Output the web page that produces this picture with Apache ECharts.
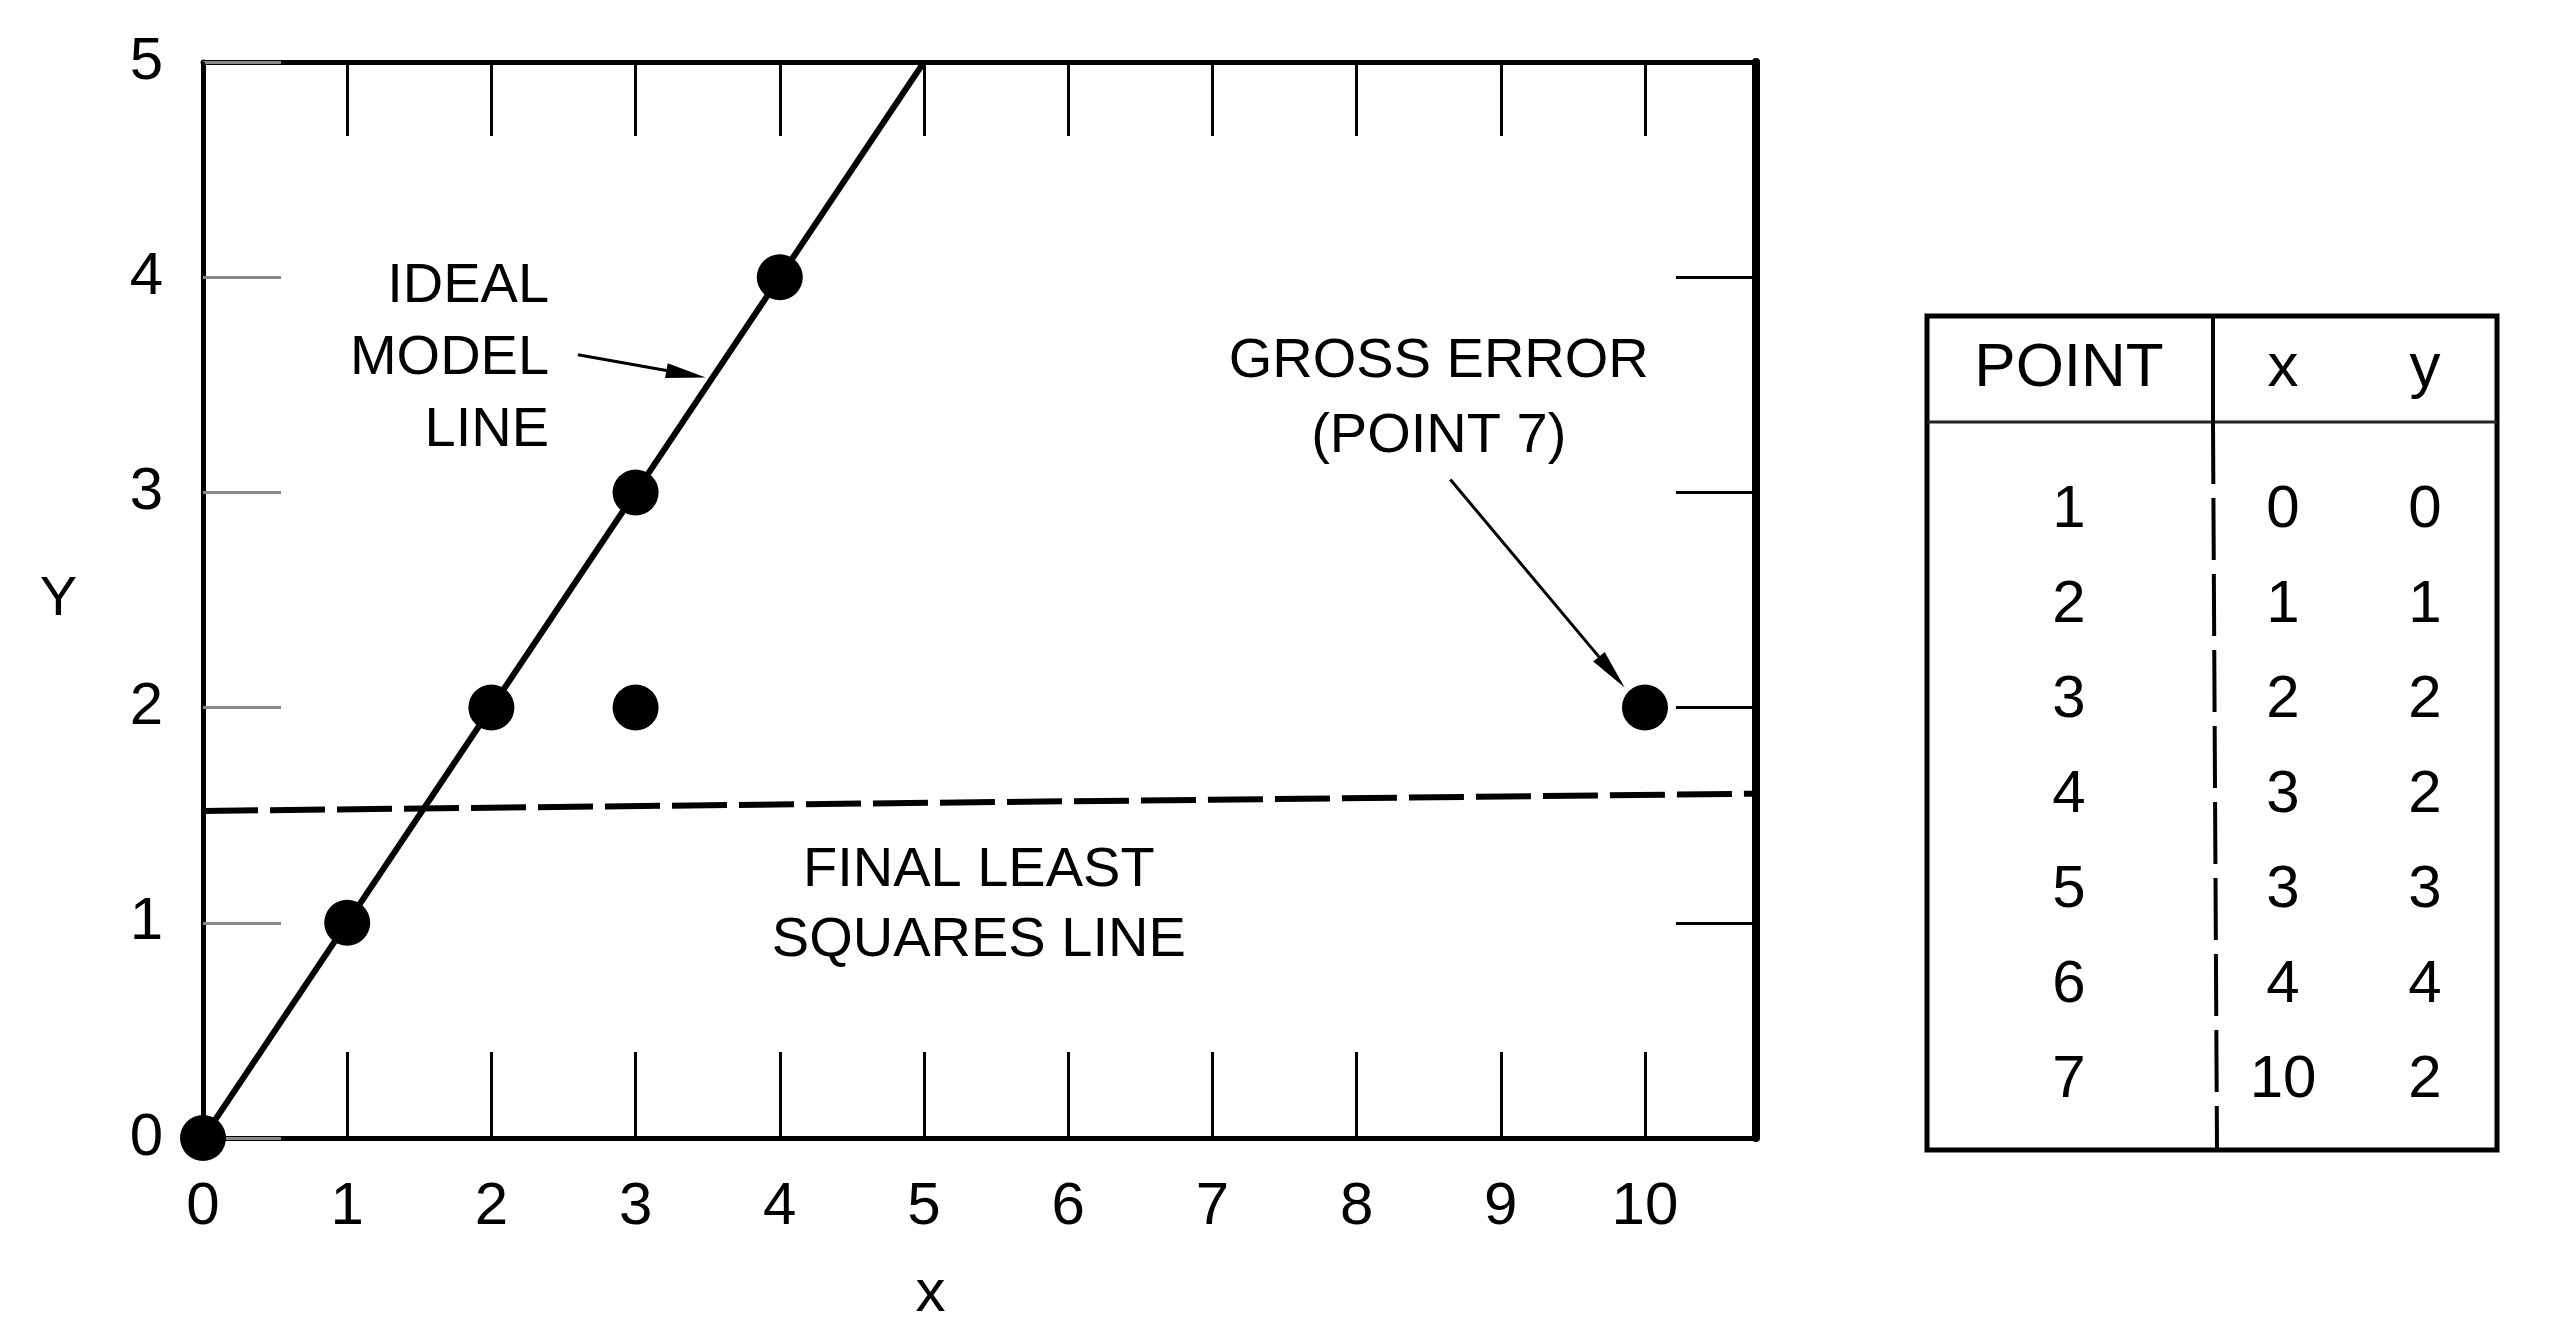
<!DOCTYPE html>
<html>
<head>
<meta charset="utf-8">
<title>Gross error vs least squares</title>
<script src="https://cdn.jsdelivr.net/npm/echarts@6/dist/echarts.min.js"></script>
<style>
  html, body { margin: 0; padding: 0; background: #fff; }
  #chart { width: 2553px; height: 1337px; }
</style>
</head>
<body>
<div id="chart"></div>
<script>
  // observations: point number, x, y
  const pointIds = [1, 2, 3, 4, 5, 6, 7]
  const pointX = [0, 1, 2, 3, 3, 4, 10]
  const pointY = [0, 1, 2, 2, 3, 4, 2]

  // ideal model line (y = x)
  const idealX = [0, 5]
  const idealY = [0, 5]

  // final least squares line, as drawn
  const lsqX = [0, 10.77]
  const lsqY = [1.52, 1.6]

  // axes
  const xMin = 0, xMax = 10.77, xStep = 1
  const yMin = 0, yMax = 5, yStep = 1

  // annotations (data units)
  const noteTexts = ['IDEAL\nMODEL\nLINE', 'GROSS ERROR\n(POINT 7)', 'FINAL LEAST\nSQUARES LINE']
  const noteX = [2.4, 8.57, 5.38]
  const noteY = [3.62, 3.435, 1.08]
  const noteAlign = ['right', 'center', 'center']
  const noteLineHeight = [72, 75, 70]

  // arrows from -> to
  const arrowFrom = [[2.6, 3.64], [8.65, 3.06]]
  const arrowTo = [[3.35, 3.55], [9.77, 2.165]]

  // table headers
  const tableHead = ['POINT', 'x', 'y']

  const FONT = '"Liberation Sans", Arial, Helvetica, sans-serif'

  const chart = echarts.init(document.getElementById('chart'), null, { renderer: 'canvas' })

  const points = pointX.map((x, i) => [x, pointY[i]])
  const ideal = idealX.map((x, i) => [x, idealY[i]])
  const lsq = lsqX.map((x, i) => [x, lsqY[i]])
  const notes = noteTexts.map((t, i) => ({
    value: [noteX[i], noteY[i]],
    name: t,
    label: { align: noteAlign[i], lineHeight: noteLineHeight[i] }
  }))
  const arrows = arrowFrom.map((f, i) => [
    { coord: f, symbol: 'none' },
    { coord: arrowTo[i], symbol: 'triangle', symbolSize: [15, 40] }
  ])

  function intLabel(v) {
    return Number.isInteger(v) ? String(v) : ''
  }

  const axisBase = {
    type: 'value',
    splitLine: { show: false },
    axisLine: { show: true, onZero: false, lineStyle: { color: '#000', width: 5 } },
    axisTick: { show: true, inside: true, lineStyle: { color: '#000', width: 3 } }
  }

  // table drawn as graphic elements
  const tLeft = 1927, tRight = 2497, tTop = 316, tBottom = 1150
  const tHeadLine = 422, tDiv = 2213
  const colX = [2069, 2283, 2425]
  const headY = 369, rowY0 = 510, rowStep = 95

  const tableEls = [
    {
      type: 'rect',
      shape: { x: tLeft, y: tTop, width: tRight - tLeft, height: tBottom - tTop },
      style: { fill: 'none', stroke: '#000', lineWidth: 5 }
    },
    {
      type: 'line',
      shape: { x1: tLeft, y1: tHeadLine, x2: tRight, y2: tHeadLine },
      style: { stroke: '#222', lineWidth: 3 }
    },
    {
      type: 'line',
      shape: { x1: tDiv, y1: tTop, x2: tDiv, y2: tHeadLine },
      style: { stroke: '#000', lineWidth: 4 }
    },
    {
      type: 'line',
      shape: { x1: tDiv, y1: tHeadLine, x2: tDiv + 4, y2: tBottom },
      style: { stroke: '#000', lineWidth: 4, lineDash: [62, 14] }
    }
  ]
  tableHead.forEach((h, j) => {
    tableEls.push({
      type: 'text',
      x: colX[j],
      y: headY,
      style: { text: h, fontSize: 62, fontFamily: FONT, fill: '#000', align: 'center', verticalAlign: 'middle' }
    })
  })
  pointIds.forEach((id, i) => {
    const row = [id, pointX[i], pointY[i]]
    row.forEach((v, j) => {
      tableEls.push({
        type: 'text',
        x: colX[j],
        y: rowY0 + i * rowStep,
        style: { text: String(v), fontSize: 60, fontFamily: FONT, fill: '#000', align: 'center', verticalAlign: 'middle' }
      })
    })
  })

  chart.setOption({
    animation: false,
    backgroundColor: '#fff',
    textStyle: { fontFamily: FONT, color: '#000' },
    grid: { left: 203, right: 797, top: 62, bottom: 199, containLabel: false },
    xAxis: [
      Object.assign({}, axisBase, {
        position: 'bottom',
        min: xMin, max: xMax, interval: xStep,
        name: 'x',
        nameLocation: 'middle',
        nameGap: 126,
        nameTextStyle: { fontSize: 60, color: '#000', fontFamily: FONT, padding: [0, 98, 0, 0] },
        axisTick: { show: true, inside: true, length: 86, lineStyle: { color: '#000', width: 3 } },
        axisLabel: { margin: 39, fontSize: 60, color: '#000', fontFamily: FONT, formatter: intLabel }
      }),
      Object.assign({}, axisBase, {
        position: 'top',
        min: xMin, max: xMax, interval: xStep,
        axisTick: { show: true, inside: true, length: 74, lineStyle: { color: '#000', width: 3 } },
        axisLabel: { show: false }
      })
    ],
    yAxis: [
      Object.assign({}, axisBase, {
        position: 'left',
        min: yMin, max: yMax, interval: yStep,
        name: 'Y',
        nameLocation: 'middle',
        nameRotate: 0,
        nameGap: 126,
        nameTextStyle: { fontSize: 56, color: '#000', fontFamily: FONT },
        axisTick: { show: true, inside: true, length: 78, lineStyle: { color: '#888', width: 3 } },
        axisLabel: { margin: 40, fontSize: 60, color: '#000', fontFamily: FONT }
      }),
      Object.assign({}, axisBase, {
        position: 'right',
        min: yMin, max: yMax, interval: yStep,
        axisLine: { show: true, onZero: false, lineStyle: { color: '#000', width: 8 } },
        axisTick: { show: true, inside: true, length: 80, lineStyle: { color: '#000', width: 3 } },
        axisLabel: { show: false }
      })
    ],
    series: [
      {
        name: 'least squares',
        type: 'line',
        data: lsq,
        symbol: 'none',
        lineStyle: { color: '#000', width: 6, type: [55, 12] },
        markLine: {
          silent: true,
          label: { show: false },
          lineStyle: { color: '#000', width: 3, type: 'solid' },
          data: arrows
        },
        z: 2
      },
      {
        name: 'ideal',
        type: 'line',
        data: ideal,
        symbol: 'none',
        lineStyle: { color: '#000', width: 6 },
        z: 3
      },
      {
        name: 'points',
        type: 'scatter',
        data: points,
        symbolSize: 46,
        itemStyle: { color: '#000', opacity: 1 },
        z: 4
      },
      {
        name: 'notes',
        type: 'scatter',
        data: notes,
        symbolSize: 0,
        silent: true,
        itemStyle: { opacity: 1 },
        label: {
          show: true,
          position: 'inside',
          verticalAlign: 'middle',
          fontSize: 56,
          color: '#000',
          textBorderWidth: 0,
          fontFamily: FONT,
          formatter: p => p.name
        },
        z: 5
      }
    ],
    graphic: tableEls
  })
</script>
</body>
</html>
